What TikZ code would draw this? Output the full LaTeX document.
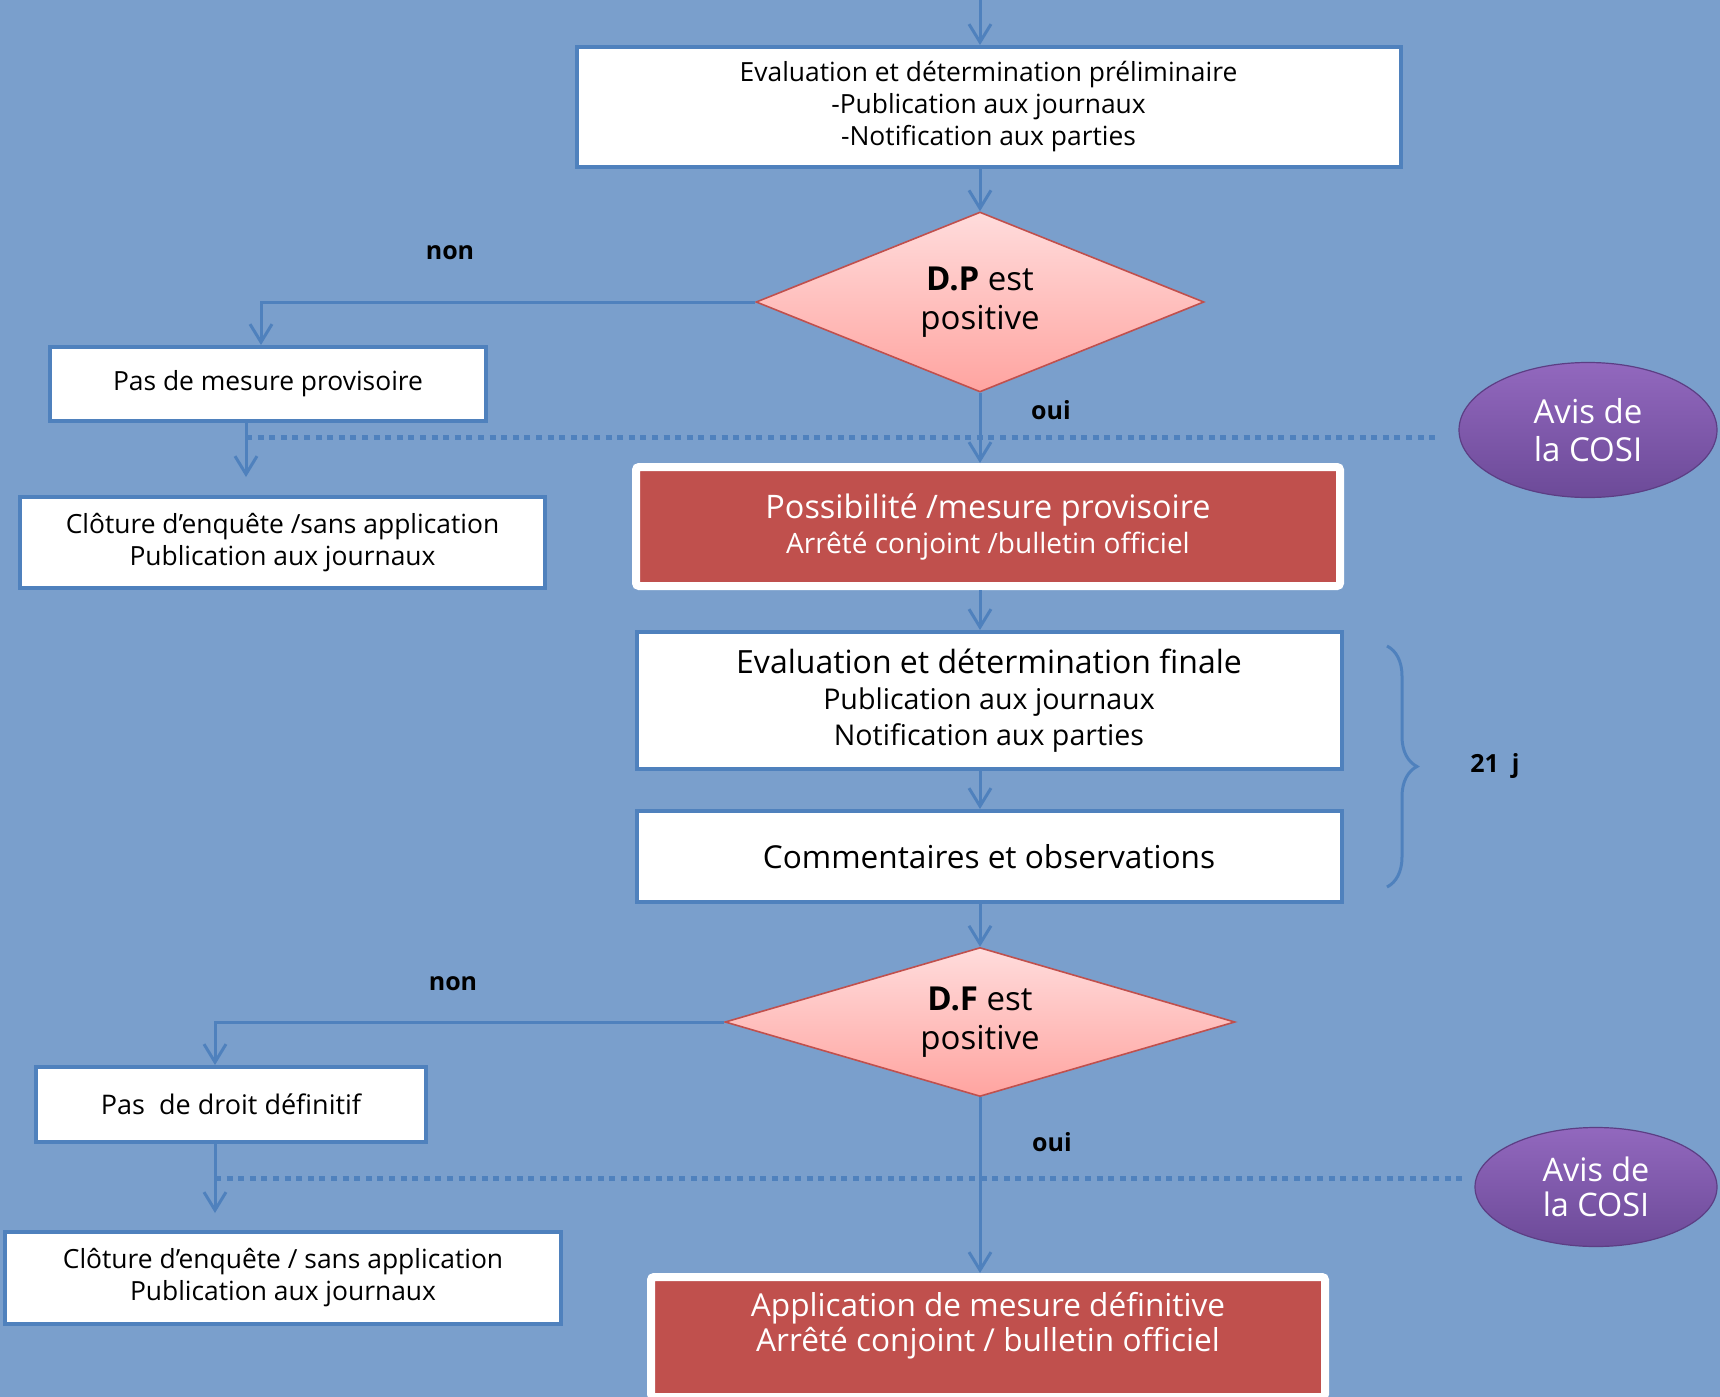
\documentclass[tikz,border=0pt]{standalone}
\usepackage{fontspec}
\setmainfont{Open Sans}
\usetikzlibrary{shapes.geometric,arrows.meta,decorations.pathreplacing}
\definecolor{bgblue}{RGB}{122,159,204}
\definecolor{lineblue}{RGB}{79,129,189}
\definecolor{boxred}{RGB}{192,80,77}
\definecolor{pinktop}{RGB}{255,220,220}
\definecolor{pinkbot}{RGB}{255,164,160}
\definecolor{purptop}{RGB}{146,104,190}
\definecolor{purpbot}{RGB}{108,74,152}
\definecolor{purpline}{RGB}{92,62,132}

\begin{document}
\begin{tikzpicture}[x=0.5pt,y=-0.5pt,
  whitebox/.style={draw=lineblue,line width=2pt,fill=white,align=center,inner sep=0pt},
  redbox/.style={draw=white,line width=4pt,fill=boxred,text=white,align=center,inner sep=0pt,rounded corners=1.5pt},
  decision/.style={diamond,draw=boxred,line width=0.8pt,top color=pinktop,bottom color=pinkbot,align=center,inner sep=0pt},
  cosi/.style={ellipse,draw=purpline,line width=0.6pt,top color=purptop,bottom color=purpbot,text=white,align=center,inner sep=0pt},
  arr/.style={draw=lineblue,line width=1.5pt,-{Straight Barb[length=9pt,width=11pt]}},
  dots/.style={draw=lineblue,line width=2.5pt,dash pattern=on 3pt off 2.8pt},
  lbl/.style={font=\fontsize{12.5}{14}\selectfont\bfseries}]
  \path[use as bounding box,fill=bgblue] (0,0) rectangle (1720,1397);

  \node[whitebox,minimum width=412pt,minimum height=60pt,font=\fontsize{13.2}{16}\selectfont] (prelim) at (988.5,107)
    {Evaluation et détermination préliminaire\\-Publication aux journaux\\-Notification aux parties};
  \node[decision,aspect=2.5,minimum width=224pt,minimum height=90pt,font=\fontsize{16.5}{19.5}\selectfont] (dp) at (980,302)
    {{\bfseries D.P} est\\positive};
  \node[whitebox,minimum width=218pt,minimum height=37pt,font=\fontsize{13.2}{15}\selectfont] (nomp) at (268,384)
    {Pas de mesure provisoire};
  \node[whitebox,minimum width=262.5pt,minimum height=45.5pt,font=\fontsize{13.2}{16}\selectfont] (clot1) at (282.5,542.5)
    {Clôture d’enquête /sans application\\Publication aux journaux};
  \node[redbox,minimum width=352pt,minimum height=59.5pt,font=\fontsize{16.2}{17.5}\selectfont] (prov) at (988,526.5)
    {Possibilité /mesure provisoire\\{\fontsize{14}{17.5}\selectfont Arrêté conjoint /bulletin officiel}};
  \node[whitebox,minimum width=352.5pt,minimum height=68.5pt,font=\fontsize{14.3}{18}\selectfont] (final) at (989,700.5)
    {{\fontsize{16}{18}\selectfont Evaluation et détermination finale}\\Publication aux journaux\\Notification aux parties};
  \node[whitebox,minimum width=352.5pt,minimum height=45.5pt,font=\fontsize{15.8}{18}\selectfont] (comm) at (989,856.5)
    {Commentaires et observations};
  \node[decision,aspect=3.4,minimum width=255pt,minimum height=74.5pt,font=\fontsize{16.5}{19.5}\selectfont] (df) at (980,1022)
    {{\bfseries D.F} est\\positive};
  \node[whitebox,minimum width=195pt,minimum height=37.5pt,font=\fontsize{13.5}{15}\selectfont] (nodd) at (231,1104.5)
    {Pas~ de droit définitif};
  \node[whitebox,minimum width=277.75pt,minimum height=46pt,font=\fontsize{13.2}{16}\selectfont] (clot2) at (283,1278)
    {Clôture d’enquête / sans application\\Publication aux journaux};
  \node[redbox,minimum width=337pt,minimum height=60pt,font=\fontsize{15.8}{17.5}\selectfont] (appl) at (988,1337)
    {Application de mesure définitive\\Arrêté conjoint / bulletin officiel\\[-2pt]\mbox{}};
  \node[cosi,minimum width=129pt,minimum height=67.5pt,font=\fontsize{16.5}{19}\selectfont] (cosi1) at (1588,430)
    {Avis de\\la COSI};
  \node[cosi,minimum width=121pt,minimum height=59.5pt,font=\fontsize{16.2}{17.5}\selectfont] (cosi2) at (1596,1187)
    {Avis de\\la COSI};

  \node[lbl] (non1) at (450,253) {non};
  \node[lbl] (oui1) at (1051,410) {oui};
  \node[lbl] (non2) at (453,984) {non};
  \node[lbl] (oui2) at (1052,1142) {oui};
  \node[lbl] (days) at (1495,766) {21~ j};

  % main line
  \coordinate (top) at (980,0);
  \draw[arr] (top) -- (top |- prelim.north);
  \draw[arr] (prelim.south -| dp.north) -- (dp.north);
  \draw[arr] (dp.south) -- (dp.south |- prov.north);
  \draw[arr] (prov.south -| dp.south) -- (final.north -| dp.south);
  \draw[arr] (final.south -| dp.south) -- (comm.north -| dp.south);
  \draw[arr] (comm.south -| df.north) -- (df.north);
  \draw[arr] (df.south) -- (df.south |- appl.north);

  % branches "non"
  \coordinate (k1) at (261,302);
  \coordinate (k2) at (246,437);
  \coordinate (d1) at (1439,437);
  \draw[arr] (dp.west) -- (k1) -- (k1 |- nomp.north);
  \draw[arr,shorten >=9pt] (k2 |- nomp.south) -- (k2 |- clot1.north);
  \draw[dots] (k2) -- (d1);
  \coordinate (k3) at (215,1022);
  \coordinate (k4) at (215,1178);
  \coordinate (d2) at (1467,1178);
  \draw[arr] (df.west) -- (k3) -- (k3 |- nodd.north);
  \draw[arr,shorten >=8.5pt] (k3 |- nodd.south) -- (k3 |- clot2.north);
  \draw[dots] (k4) -- (d2);

  % 21 jours
  \coordinate (b1) at (1387,646);
  \coordinate (b2) at (1387,887);
  \draw[draw=lineblue,line width=1.5pt,decorate,decoration={brace,amplitude=15pt}] (b1) -- (b2);
\end{tikzpicture}
\end{document}
